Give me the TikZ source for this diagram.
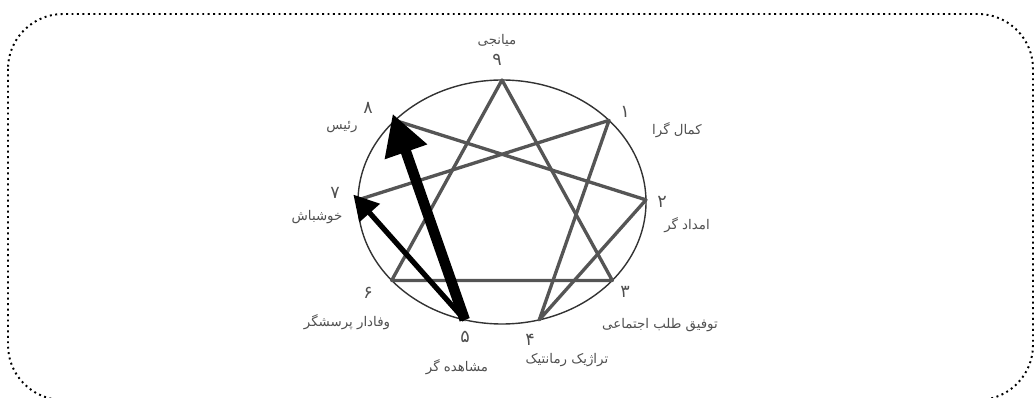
\documentclass[tikz,border=0pt]{standalone}
\usepackage{fontspec}
\newfontfamily\fa[Script=Arabic]{DejaVu Sans}
\TeXXeTstate=1
\usetikzlibrary{arrows.meta}
\definecolor{cL}{RGB}{85,85,85}
\definecolor{cT}{RGB}{80,80,80}

\begin{document}
\begin{tikzpicture}[x=0.02cm, y=-0.02cm,
    star/.style={draw=cL, line width=1.9pt, line join=round},
    typenum/.style={text=cT, font=\fa\fontsize{10}{11}\selectfont, inner sep=0pt},
    typename/.style={text=cT, font=\fa\fontsize{7.6}{9}\selectfont, inner sep=0pt}]
    \useasboundingbox (0,0) rectangle (1034,398);

    % Dotted frame
    \draw[line width=1.1pt, dotted, rounded corners=1.1cm] (8,14) rectangle (1033,400);

    % Points on the circle
    \foreach \i/\a in {9/0, 1/48, 2/89, 3/130, 4/165, 5/195, 6/230, 7/271, 8/312}
        \coordinate (p\i) at ({502+144*sin(\a)}, {202-122*cos(\a)});
    \draw[draw=black!80, line width=0.8pt] (502,202) ellipse [x radius=144, y radius=122];

    % Triangle and hexad
    \draw[star] (p9) -- (p3) -- (p6) -- cycle;
    \draw[star] (p1) -- (p4) -- (p2) -- (p8) -- (p5) -- (p7) -- cycle;

    % Arrows from 5
    \draw[-{Triangle[length=23pt, width=24pt]}, line width=6pt, shorten >=-4pt] (p5) -- (p8);
    \draw[-{Triangle[length=14pt, width=15pt]}, line width=3pt, shorten >=-4pt] (p5) -- (p7);

    % Labels
    \node[typenum]  (n9) at (497,60)  {\beginR ۹\endR};
    \node[typename] (t9) at (497,40)  {\beginR میانجی\endR};
    \node[typenum]  (n1) at (625,112) {\beginR ۱\endR};
    \node[typename] (t1) at (677,130) {\beginR کمال گرا\endR};
    \node[typenum]  (n2) at (662,202) {\beginR ۲\endR};
    \node[typename] (t2) at (687,225) {\beginR امداد گر\endR};
    \node[typenum]  (n3) at (625,292) {\beginR ۳\endR};
    \node[typename] (t3) at (660,325) {\beginR توفیق طلب اجتماعی\endR};
    \node[typenum]  (n4) at (530,340) {\beginR ۴\endR};
    \node[typename] (t4) at (567,360) {\beginR تراژیک رمانتیک\endR};
    \node[typenum]  (n5) at (465,337) {\beginR ۵\endR};
    \node[typename] (t5) at (457,367) {\beginR مشاهده گر\endR};
    \node[typenum]  (n6) at (368,293) {\beginR ۶\endR};
    \node[typename] (t6) at (347,322) {\beginR وفادار پرسشگر\endR};
    \node[typenum]  (n7) at (335,193) {\beginR ۷\endR};
    \node[typename] (t7) at (317,217) {\beginR خوشباش\endR};
    \node[typenum]  (n8) at (368,108) {\beginR ۸\endR};
    \node[typename] (t8) at (342,127) {\beginR رئیس\endR};

\end{tikzpicture}
\end{document}
